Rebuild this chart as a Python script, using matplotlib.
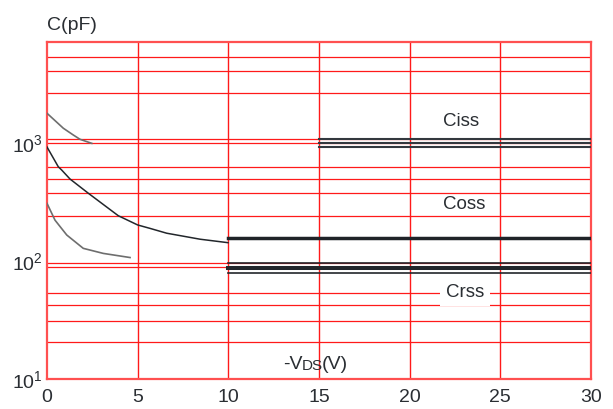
import numpy as np
import matplotlib.pyplot as plt

plt.rcParams['font.family'] = ['Liberation Sans', 'DejaVu Sans']
plt.rcParams['mathtext.fontset'] = 'custom'
plt.rcParams['mathtext.rm'] = 'Liberation Sans'

# Capacitance curves (pF) against -VDS (V)
v_ciss = [0, 0.9, 1.45, 1.82, 2.47]
c_ciss = [1787, 1334, 1169, 1075, 993]

v_coss = [0, 0.62, 0.81, 1.27, 2.28, 3.93, 5.0, 5.68, 6.6, 8.44, 9.98]
c_coss = [925, 630, 590, 495, 375, 242, 202, 189, 172, 153, 143]

v_crss = [0, 0.44, 1.09, 2.0, 3.1, 4.58]
c_crss = [308, 222, 166, 128, 116, 107]

# Flat levels at higher voltage
ciss_flat = [1085, 995, 919]
ciss_flat_v = [15, 30]
coss_flat = [157]
crss_flat = [96.0, 87.3, 79.9]
flat_v = [10, 30]

# Red grid
grid_c = [5380, 4075, 2636, 1075, 993, 630, 495, 375, 242,
          96.7, 89.5, 53.2, 42.4, 31.2, 20.5]
grid_v = [5, 10, 15, 20, 25]

x_ticks = [0, 5, 10, 15, 20, 25, 30]
y_ticks = [10, 100, 1000]
y_ticklabels = [r'$\mathregular{10^1}$', r'$\mathregular{10^2}$',
                r'$\mathregular{10^3}$']
y_min, y_max = 10, 7220

fig = plt.figure(figsize=(6.13, 4.09), dpi=100)
ax = fig.add_axes([47/613, 30/409, 544/613, 337.3/409])
ax.set_yscale('log')
ax.set_xlim(0, 30)
ax.set_ylim(y_min, y_max)

ax.hlines(grid_c, 0, 30, colors='#ff1a1a', linewidth=0.9, zorder=1)
ax.vlines(grid_v, y_min, y_max, colors='#ff1a1a', linewidth=1.0, zorder=1)
for s in ax.spines.values():
    s.set_color('#ff5050')
    s.set_linewidth(1.6)

# Curves
ax.plot(v_ciss, c_ciss, color='#6e6e6e', linewidth=1.2, zorder=3,
        solid_joinstyle='round')
ax.plot(v_coss, c_coss, color='#22262b', linewidth=1.1, zorder=3,
        solid_joinstyle='round')
ax.plot(v_crss, c_crss, color='#6e6e6e', linewidth=1.2, zorder=3,
        solid_joinstyle='round')

for c in ciss_flat:
    ax.plot(ciss_flat_v, [c, c], color='#33383e', linewidth=1.5, zorder=3)
for c in coss_flat:
    ax.plot(flat_v, [c, c], color='#1f2328', linewidth=2.5, zorder=3)
for c, lw in zip(crss_flat, [1.2, 2.9, 1.2]):
    ax.plot(flat_v, [c, c], color='#22262b', linewidth=lw, zorder=3)

# Labels
ax.text(21.84, 1393, 'Ciss', fontsize=13.5, color='#2a2e33', va='baseline')
ax.text(21.84, 274, 'Coss', fontsize=13.5, color='#2a2e33', va='baseline')
ax.text(22.0, 49.8, 'Crss', fontsize=13.5, color='#2a2e33', va='baseline',
        bbox=dict(boxstyle='square,pad=0.3', fc='white', ec='none'), zorder=4)

t1 = ax.text(13.0, 12.04, '-V', fontsize=14, color='#2a2e33', va='baseline')
t2 = ax.annotate('DS', xy=(1, 0), xycoords=t1, fontsize=11, color='#2a2e33',
                 va='bottom')
ax.annotate('(V)', xy=(1, 0), xycoords=t2, xytext=(-1.5, 0),
            textcoords='offset points', fontsize=14, color='#2a2e33',
            va='bottom')

fig.text(47/613, 1 - 30/409, 'C(pF)', fontsize=14, color='#2a2e33',
         va='baseline')

ax.set_xticks(x_ticks)
ax.set_yticks(y_ticks)
ax.set_yticklabels(y_ticklabels)
ax.yaxis.set_minor_locator(plt.NullLocator())
ax.tick_params(axis='both', length=0, labelsize=14, colors='#2a2e33')
ax.tick_params(axis='x', pad=7)
ax.tick_params(axis='y', pad=3)

fig.savefig('out.png', dpi=100)
